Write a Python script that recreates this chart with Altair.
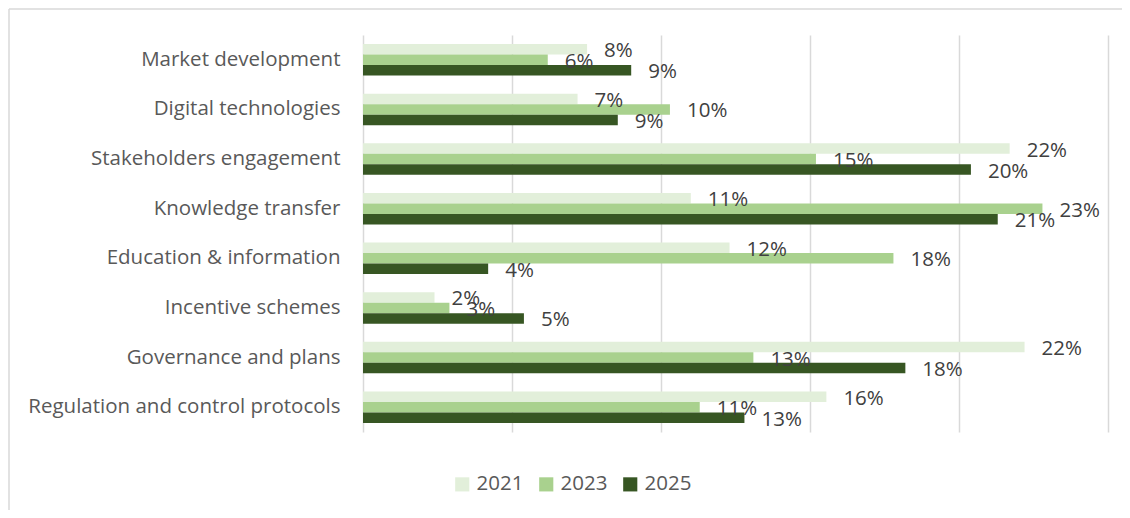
import altair as alt
import pandas as pd

categories = ["Market development", "Digital technologies", "Stakeholders engagement",
              "Knowledge transfer", "Education & information", "Incentive schemes",
              "Governance and plans", "Regulation and control protocols"]
years = ["2021", "2023", "2025"]
v2021 = [7.52, 7.2, 21.7, 11.0, 12.3, 2.4, 22.2, 15.55]
v2023 = [6.2, 10.3, 15.2, 22.8, 17.8, 2.9, 13.1, 11.3]
v2025 = [9.0, 8.55, 20.4, 21.3, 4.2, 5.4, 18.2, 12.8]
colors = ["#E2EFDA", "#A9D18E", "#375623"]

rows = []
for y, vals in zip(years, [v2021, v2023, v2025]):
    for c, v in zip(categories, vals):
        rows.append({"category": c, "year": y, "value": v})
df = pd.DataFrame(rows)

FONT = "Open Sans"
FS = 20.5

y_enc = alt.Y("category:N", sort=categories,
              scale=alt.Scale(paddingInner=0.365, paddingOuter=0.1825),
              axis=alt.Axis(title=None, ticks=False, tickSize=0, domain=False, grid=False,
                            labelPadding=23, labelFont=FONT, labelFontSize=FS,
                            labelColor="#595959", labelLimit=400))
yoff = alt.YOffset("year:N", sort=years, scale=alt.Scale(paddingInner=0, paddingOuter=0))
x_enc = alt.X("value:Q", scale=alt.Scale(domain=[0, 25], nice=False),
              axis=alt.Axis(title=None, labels=False, ticks=False, domain=False,
                            values=[0, 5, 10, 15, 20, 25], grid=True,
                            gridColor="#D9D9D9", gridWidth=1.5))

bars = alt.Chart(df).mark_bar().encode(
    x=x_enc, y=y_enc, yOffset=yoff,
    color=alt.Color("year:N", sort=years,
                    scale=alt.Scale(domain=years, range=colors),
                    legend=alt.Legend(title=None, orient="none", direction="horizontal",
                                      legendX=89, legendY=439, symbolType="square",
                                      symbolSize=200, symbolStrokeWidth=0,
                                      labelFont=FONT, labelFontSize=FS, labelColor="#595959",
                                      labelOffset=4, columnPadding=12, padding=0))
)

labels = alt.Chart(df).transform_calculate(
    lab="format(datum.value, '.0f') + '%'"
).mark_text(align="left", baseline="middle", dx=17, dy=2, font=FONT, fontSize=FS,
            color="#404040").encode(
    x="value:Q", y=alt.Y("category:N", sort=categories), yOffset=yoff, text="lab:N"
)

border_df = pd.DataFrame({"k": [0]})
top_border = alt.Chart(border_df).mark_rule(color="#D9D9D9", strokeWidth=1.5).encode(
    x=alt.value(-354), x2=alt.value(759), y=alt.value(-26)
)
left_border = alt.Chart(border_df).mark_rule(color="#D9D9D9", strokeWidth=1.5).encode(
    x=alt.value(-354), y=alt.value(-26), y2=alt.value(475)
)

chart = alt.layer(bars, labels, top_border, left_border).properties(
    width=745, height=397,
    autosize=alt.AutoSizeParams(type="none"),
    padding={"left": 355, "top": 27, "right": 14, "bottom": 78},
).configure_view(stroke=None).configure_scale(
    bandPaddingInner=0.365
)

chart.save("out.html", embed_options={"renderer": "svg", "actions": False})
